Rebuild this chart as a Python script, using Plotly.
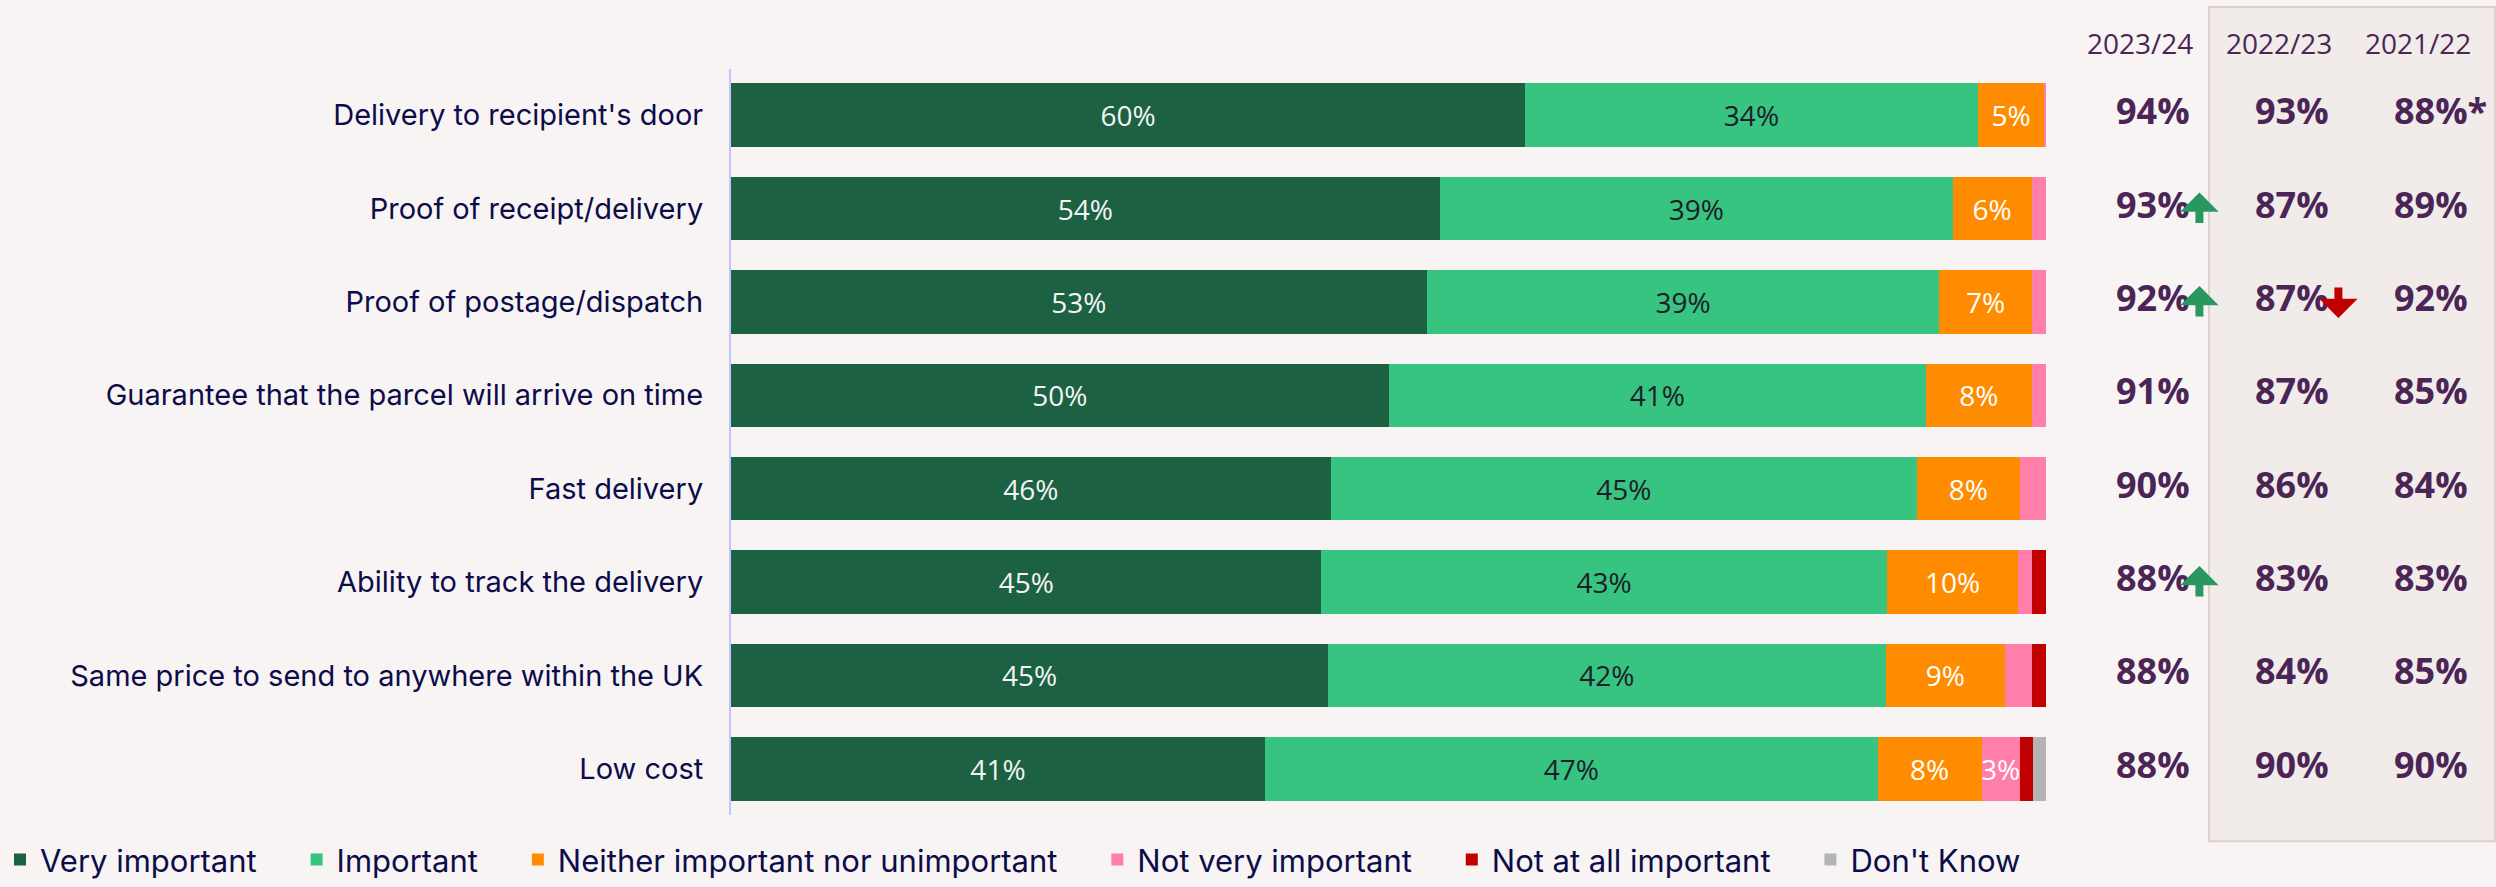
import math
import plotly.graph_objects as go

# Survey items (top to bottom)
categories = [
    "Delivery to recipient's door",
    "Proof of receipt/delivery",
    "Proof of postage/dispatch",
    "Guarantee that the parcel will arrive on time",
    "Fast delivery",
    "Ability to track the delivery",
    "Same price to send to anywhere within the UK",
    "Low cost",
]

# Share of respondents per rating (%)
very_important = [60.4, 53.9, 52.9, 50.0, 45.6, 44.9, 45.4, 40.6]
important = [34.4, 39.0, 39.0, 40.9, 44.6, 43.0, 42.4, 46.6]
neither = [5.1, 6.0, 7.0, 8.0, 7.8, 10.0, 9.1, 7.9]
not_very = [0.1, 1.1, 1.1, 1.1, 2.0, 1.0, 2.0, 2.9]
not_at_all = [0.0, 0.0, 0.0, 0.0, 0.0, 1.1, 1.1, 1.0]
dont_know = [0.0, 0.0, 0.0, 0.0, 0.0, 0.0, 0.0, 1.0]

# Total "important" by survey year
year_labels = ["2023/24", "2022/23", "2021/22"]
total_2324 = ["94%", "93%", "92%", "91%", "90%", "88%", "88%", "88%"]
total_2223 = ["93%", "87%", "87%", "87%", "86%", "83%", "84%", "90%"]
total_2122 = ["88%*", "89%", "92%", "85%", "84%", "83%", "85%", "90%"]
# Significant change markers: +1 up, -1 down, 0 none
change_2324 = [0, 1, 1, 0, 0, 1, 0, 0]
change_2223 = [0, 0, -1, 0, 0, 0, 0, 0]

BG = "#f8f4f3"
NAVY = "#0c0c4a"
PURPLE = "#4b2556"

series = [
    ("Very important", very_important, "#1b6142", "#f4f4f4"),
    ("Important", important, "#36c480", "#1c1c2a"),
    ("Neither important nor unimportant", neither, "#ff8c00", "#ffffff"),
    ("Not very important", not_very, "#ff7eaa", "#ffffff"),
    ("Not at all important", not_at_all, "#c00000", "#ffffff"),
    ("Don't Know", dont_know, "#b4b4b4", "#ffffff"),
]

# extra room after each legend entry
LEGEND_PAD = "\u00a0" * 4


def seg_label(v):
    r = int(math.floor(v + 0.5))
    return f"{r}%" if r >= 3 else ""


fig = go.Figure()
for name, vals, color, tcolor in series:
    fig.add_trace(go.Bar(
        name=name + LEGEND_PAD,
        y=categories,
        x=vals,
        orientation="h",
        marker=dict(color=color, line=dict(width=0)),
        text=[seg_label(v) for v in vals],
        textposition="inside",
        insidetextanchor="middle",
        textangle=0,
        textfont=dict(family="Open Sans", size=28, color=tcolor),
        hoverinfo="skip",
    ))

# Year-on-year totals table on a second x axis
for col, vals in enumerate([total_2324, total_2223, total_2122]):
    fig.add_trace(go.Scatter(
        x=[col] * len(categories),
        y=categories,
        xaxis="x2",
        yaxis="y",
        mode="text",
        text=vals,
        textposition="middle right",
        textfont=dict(family="Open Sans", size=36, color=PURPLE, weight="bold"),
        showlegend=False,
        hoverinfo="skip",
    ))

annotations = []
for col, lab in enumerate(year_labels):
    annotations.append(dict(
        x=col + 0.17, y=0.951, xref="x2", yref="paper",
        text=lab, showarrow=False,
        font=dict(family="Open Sans", size=28, color=PURPLE),
        xanchor="center", yanchor="middle",
    ))

for col, flags in enumerate([change_2324, change_2223]):
    for cat, f in zip(categories, flags):
        if f == 0:
            continue
        up = f > 0
        annotations.append(dict(
            x=col + 0.6, y=cat, xref="x2", yref="y",
            text="", showarrow=True,
            ax=0, ay=32 if up else -32, axref="pixel", ayref="pixel",
            yshift=16 if up else -16,
            arrowhead=1, arrowsize=0.8, arrowwidth=8,
            arrowcolor="#2a9660" if up else "#c00000",
        ))

fig.update_layout(
    width=2496, height=887,
    margin=dict(l=0, r=0, t=0, b=0),
    paper_bgcolor=BG, plot_bgcolor=BG,
    barmode="stack", bargap=0.32,
    uniformtext=dict(minsize=28, mode="show"),
    showlegend=True,
    legend=dict(
        orientation="h", x=0, y=0.024, xanchor="left", yanchor="middle",
        font=dict(family="Inter", size=31, color=NAVY),
        bgcolor="rgba(0,0,0,0)", traceorder="normal",
        itemwidth=30,
    ),
    xaxis=dict(domain=[731 / 2496, 2046 / 2496], range=[0, 100], visible=False,
               automargin=False),
    xaxis2=dict(domain=[2046 / 2496, 1], range=[-0.504, 2.734], anchor="y",
                visible=False, automargin=False),
    yaxis=dict(
        domain=[66 / 887, 818 / 887], autorange="reversed",
        showline=True, linecolor="#c4c4ff", linewidth=2,
        showgrid=False, zeroline=False, ticks="", automargin=False,
        ticklabelstandoff=20,
        tickfont=dict(family="Inter", size=29, color=NAVY),
    ),
    shapes=[dict(
        type="rect", xref="paper", yref="paper",
        x0=2209 / 2496, x1=2495 / 2496, y0=40 / 887, y1=880 / 887,
        fillcolor="#f1ecea", line=dict(color="#ddd0cd", width=2), layer="below",
    )],
    annotations=annotations,
)

fig.write_html("out.html")
